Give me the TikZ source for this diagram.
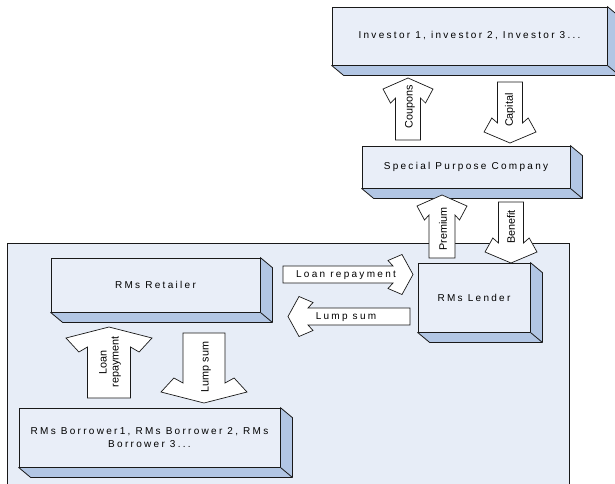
\documentclass[tikz,border=0pt]{standalone}
\usepackage{fontspec}
\setmainfont{Liberation Sans}
\usepackage{tikz}
\usetikzlibrary{calc}
\definecolor{panelblue}{RGB}{231,237,247}
\definecolor{frontblue}{RGB}{233,238,248}
\definecolor{sideblue}{RGB}{178,198,228}
\definecolor{edgegray}{RGB}{25,25,25}

% bottom and right faces of a box node
\newcommand{\depthfaces}[1]{%
  \draw[sideface] (#1.south west) -- ++(12,10) -- ($(#1.south east)+(12,10)$)
    -- ($(#1.north east)+(12,10)$) -- (#1.north east) -- (#1.south east) -- cycle;
  \draw[sideface] (#1.south east) -- ++(12,10);}

% block arrow: tip, angle, length, shaft half width, head half width
\newcommand{\blockarrow}[5]{%
  \draw[blockarr, shift={(#1)}, rotate=#2]
    (0,0) -- (-11,#5) -- (-25,{0.7*#5}) -- (-20,#4) -- (-#3,#4)
    -- (-#3,-#4) -- (-20,-#4) -- (-25,{-0.7*#5}) -- (-11,-#5) -- cycle;}

\begin{document}
\begin{tikzpicture}[x=1pt, y=-1pt,
  every node/.style={font=\fontsize{10}{12.5}\selectfont},
  tracked/.style={font=\fontsize{10}{12.5}\selectfont\addfontfeature{LetterSpace=23}},
  box/.style={draw=edgegray, line width=0.8pt, fill=frontblue, inner sep=0pt, align=center, tracked},
  sideface/.style={draw=edgegray, line width=0.8pt, fill=sideblue, line join=round},
  blockarr/.style={draw=edgegray, line width=0.7pt, fill=white},
  panel/.style={draw=edgegray, line width=0.8pt, fill=panelblue},
  arrlabel/.style={inner sep=0pt},
  vlabel/.style={arrlabel, rotate=90, align=center, font=\fontsize{10.8}{12}\selectfont}]
\useasboundingbox (0,0) rectangle (615,483);

% Panel
\draw[panel] (7,243) rectangle (569,495);

% Boxes
\node[box, minimum width=275, minimum height=58] (inv) at (469.5,36) {Investor 1, investor 2, Investor 3...};
\node[box, minimum width=208, minimum height=42] (spc) at (466,167) {Special Purpose Company};
\node[box, minimum width=209, minimum height=54] (ret) at (155.5,285) {RMs Retailer};
\node[box, minimum width=112, minimum height=69] (lend) at (474,297.5) {RMs Lender};
\node[box, minimum width=261, minimum height=59] (bor) at (149.5,437.5) {RMs Borrower1, RMs Borrower 2, RMs\\Borrower 3...};
\foreach \b in {inv,spc,ret,lend,bor} {
  \depthfaces{\b}
}

% Arrow tips
\coordinate (cpt) at (408,78);
\coordinate (capt) at (510,143);
\coordinate (prmt) at (442,195);
\coordinate (bent) at (511,263);
\coordinate (lrpt) at (413,274.5);
\coordinate (lmpt) at (288,316.5);
\coordinate (lrvt) at (109,327);
\coordinate (lmvt) at (204,403);

% Block arrows
\blockarrow{cpt}{90}{62}{12.5}{25}
\blockarrow{capt}{-90}{61}{12.5}{26}
\blockarrow{prmt}{90}{63}{13}{25}
\blockarrow{bent}{-90}{61}{12.5}{26}
\blockarrow{lrpt}{0}{130}{8.5}{20}
\blockarrow{lmpt}{180}{122}{8.5}{20}
\blockarrow{lrvt}{90}{71}{21.5}{43}
\blockarrow{lmvt}{-90}{70}{21}{43}

% Arrow labels
\node[vlabel] (coupons) at (410,107) {Coupons};
\node[vlabel] (capital) at (510,110) {Capital};
\node[vlabel] (premium) at (443,229) {Premium};
\node[vlabel] (benefit) at (511,227) {Benefit};
\node[arrlabel, tracked] (loanh) at (346,275) {Loan repayment};
\node[arrlabel, tracked] (lumph) at (346,317) {Lump sum};
\node[vlabel] (loanv) at (110,362) {Loan\\repayment};
\node[vlabel] (lumpv) at (206,367) {Lump sum};

\end{tikzpicture}
\end{document}
